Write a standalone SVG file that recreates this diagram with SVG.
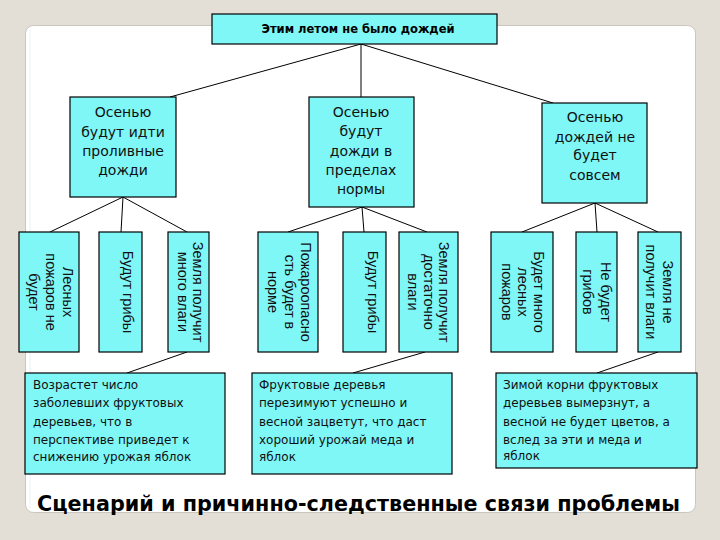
<svg xmlns="http://www.w3.org/2000/svg" width="720" height="540" viewBox="0 0 720 540">
<style>
.box{fill:#7ff7f7;stroke:#000;stroke-width:1.2}
.conn line{stroke:#000;stroke-width:1}
.top{font-family:"DejaVu Sans",sans-serif;font-weight:bold;font-size:11.5px;text-anchor:middle}
.mid{font-family:"DejaVu Sans",sans-serif;font-size:14px;text-anchor:middle;fill:#111}
.vert{font-family:"Liberation Sans",Arial,sans-serif;font-size:14.5px;text-anchor:middle;fill:#111}
.bot{font-family:"DejaVu Sans",sans-serif;font-size:12px;fill:#111}
.title{font-family:"DejaVu Sans",sans-serif;font-weight:bold;font-size:22px}
</style>
<rect x="0" y="0" width="720" height="540" fill="#e3dfd7"/>
<rect x="25.5" y="25.5" width="670" height="487" rx="8" fill="#fff" stroke="#c9c6c0"/>
<line x1="30" y1="30" x2="30" y2="508" stroke="#eef0f3"/>
<g class="conn">
<line x1="361" y1="44" x2="170" y2="97"/>
<line x1="361" y1="44" x2="361" y2="97"/>
<line x1="361" y1="44" x2="553" y2="103"/>
<line x1="123" y1="197" x2="50" y2="232"/>
<line x1="123" y1="197" x2="121" y2="232"/>
<line x1="123" y1="197" x2="187" y2="232"/>
<line x1="362" y1="207" x2="288" y2="232"/>
<line x1="362" y1="207" x2="364" y2="232"/>
<line x1="362" y1="207" x2="427" y2="232"/>
<line x1="595" y1="203" x2="522" y2="232"/>
<line x1="595" y1="203" x2="597" y2="232"/>
<line x1="595" y1="203" x2="658" y2="232"/>
<line x1="187" y1="352" x2="127" y2="373"/>
<line x1="425" y1="352" x2="353" y2="373"/>
<line x1="658" y1="352" x2="597" y2="373"/>
</g>
<g id="n-top">
<rect class="box" x="212" y="14" width="285" height="30"/>
<text class="top" x="358" y="33">Этим летом не было дождей</text>
</g>
<g id="n-a">
<rect class="box" x="70" y="97" width="106" height="100"/>
<text class="mid"><tspan x="123" y="117">Осенью</tspan><tspan x="123" y="137">будут идти</tspan><tspan x="123" y="156">проливные</tspan><tspan x="123" y="175">дожди</tspan></text>
</g>
<g id="n-b">
<rect class="box" x="309" y="97" width="105" height="110"/>
<text class="mid"><tspan x="361" y="117">Осенью</tspan><tspan x="361" y="136">будут</tspan><tspan x="361" y="156">дожди в</tspan><tspan x="361" y="175">пределах</tspan><tspan x="361" y="194">нормы</tspan></text>
</g>
<g id="n-c">
<rect class="box" x="542" y="103" width="105" height="100"/>
<text class="mid"><tspan x="595" y="122">Осенью</tspan><tspan x="595" y="142">дождей не</tspan><tspan x="595" y="160">будет</tspan><tspan x="595" y="180">совсем</tspan></text>
</g>
<g id="v1">
<rect class="box" x="19" y="232" width="60" height="120"/>
<text class="vert" transform="translate(63,292) rotate(90)"><tspan x="0" y="0">Лесных</tspan><tspan x="0" y="17">пожаров не</tspan><tspan x="0" y="34">будет</tspan></text>
</g>
<g id="v2">
<rect class="box" x="99" y="232" width="43" height="120"/>
<text class="vert" transform="translate(123,292) rotate(90)"><tspan x="0" y="0">Будут грибы</tspan></text>
</g>
<g id="v3">
<rect class="box" x="168" y="232" width="41" height="120"/>
<text class="vert" transform="translate(193,292) rotate(90)"><tspan x="0" y="0">Земля получит</tspan><tspan x="0" y="15">много влаги</tspan></text>
</g>
<g id="v4">
<rect class="box" x="258" y="232" width="60" height="120"/>
<text class="vert" transform="translate(301,292) rotate(90)"><tspan x="0" y="0">Пожароопасно</tspan><tspan x="0" y="16.5">сть будет в</tspan><tspan x="0" y="33">норме</tspan></text>
</g>
<g id="v5">
<rect class="box" x="343" y="232" width="43" height="120"/>
<text class="vert" transform="translate(368,292) rotate(90)"><tspan x="0" y="0">Будут грибы</tspan></text>
</g>
<g id="v6">
<rect class="box" x="399" y="232" width="59" height="120"/>
<text class="vert" transform="translate(439,292) rotate(90)"><tspan x="0" y="0">Земля получит</tspan><tspan x="0" y="15.5">достаточно</tspan><tspan x="0" y="31">влаги</tspan></text>
</g>
<g id="v7">
<rect class="box" x="491" y="232" width="62" height="120"/>
<text class="vert" transform="translate(534,292) rotate(90)"><tspan x="0" y="0">Будет много</tspan><tspan x="0" y="16">лесных</tspan><tspan x="0" y="32">пожаров</tspan></text>
</g>
<g id="v8">
<rect class="box" x="576" y="232" width="41" height="120"/>
<text class="vert" transform="translate(601,292) rotate(90)"><tspan x="0" y="0">Не будет</tspan><tspan x="0" y="18">грибов</tspan></text>
</g>
<g id="v9">
<rect class="box" x="638" y="232" width="43" height="120"/>
<text class="vert" transform="translate(663,292) rotate(90)"><tspan x="0" y="0">Земля не</tspan><tspan x="0" y="17">получит влаги</tspan></text>
</g>
<g id="r1">
<rect class="box" x="25" y="373" width="200" height="101"/>
<text class="bot"><tspan x="33" y="389">Возрастет число</tspan><tspan x="33" y="407">заболевших фруктовых</tspan><tspan x="33" y="426">деревьев, что в</tspan><tspan x="33" y="444">перспективе приведет к</tspan><tspan x="33" y="461">снижению урожая яблок</tspan></text>
</g>
<g id="r2">
<rect class="box" x="252" y="373" width="200" height="101"/>
<text class="bot"><tspan x="259" y="389">Фруктовые деревья</tspan><tspan x="259" y="407">перезимуют успешно и</tspan><tspan x="259" y="426">весной зацветут, что даст</tspan><tspan x="259" y="444">хороший урожай меда и</tspan><tspan x="259" y="461">яблок</tspan></text>
</g>
<g id="r3">
<rect class="box" x="496" y="373" width="201" height="95"/>
<text class="bot"><tspan x="503" y="389">Зимой корни фруктовых</tspan><tspan x="503" y="407">деревьев вымерзнут, а</tspan><tspan x="503" y="426">весной не будет цветов, а</tspan><tspan x="503" y="444">вслед за эти и меда и</tspan><tspan x="503" y="460">яблок</tspan></text>
</g>
<text class="title" x="37" y="511" textLength="643" lengthAdjust="spacingAndGlyphs">Сценарий и причинно-следственные связи проблемы</text>
</svg>
